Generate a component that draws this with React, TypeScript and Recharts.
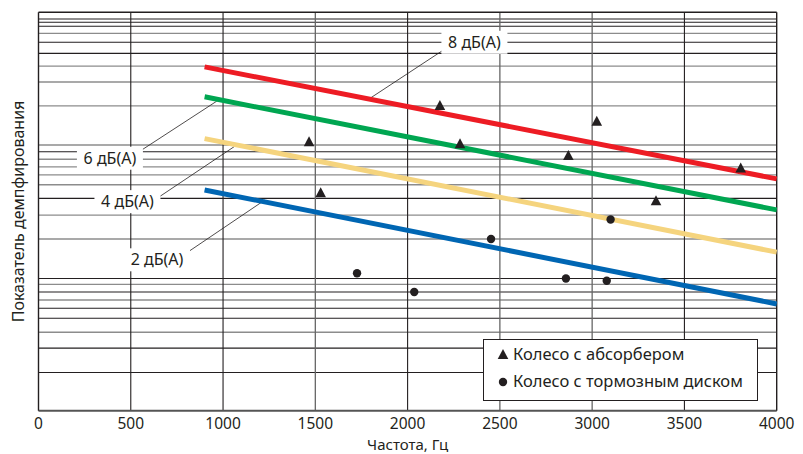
import {
  Legend,
  Line,
  LineChart,
  ReferenceDot,
  ReferenceLine,
  Scatter,
  XAxis,
  YAxis,
} from "recharts";

const FONT = "'Noto Sans', sans-serif";
const INK = "#231f20";
const GRAY = "#8c8c8c";

const xTicks = [0, 500, 1000, 1500, 2000, 2500, 3000, 3500, 4000];
const xDarkLines = [500, 1000, 2000, 3500];
const xGrayLines = [1500, 2500, 3000];

// horizontal rulings of the damping scale (no labels on the original)
const yDarkLines = [98.3, 97.5, 96.5, 92.5, 89.7, 65.0, 53.3, 33.2, 29.8, 25.7, 23.2, 15.7, 9.6];
const yGrayLines = [94.7, 86.5, 82.5, 76.5, 66.7, 63.1, 61.2, 59.2, 56.7, 49.1, 43.1, 31.7, 27.8, 19.7];

const line8 = [{ x: 900, y: 86.3 }, { x: 4000, y: 58.2 }];
const line6 = [{ x: 900, y: 78.8 }, { x: 4000, y: 50.4 }];
const line4 = [{ x: 900, y: 68.3 }, { x: 4000, y: 39.8 }];
const line2 = [{ x: 900, y: 55.4 }, { x: 4000, y: 26.8 }];

const absorber = [
  { x: 1466, y: 67.4 },
  { x: 1529, y: 54.6 },
  { x: 2175, y: 76.5 },
  { x: 2284, y: 66.9 },
  { x: 2871, y: 63.9 },
  { x: 3025, y: 72.5 },
  { x: 3346, y: 52.6 },
  { x: 3805, y: 60.8 },
];

const brakeDisc = [
  { x: 1726, y: 34.5 },
  { x: 2036, y: 29.8 },
  { x: 2452, y: 43.1 },
  { x: 2858, y: 33.2 },
  { x: 3079, y: 32.6 },
  { x: 3100, y: 48.0 },
];

const lineLabels = [
  { text: "8 дБ(А)", x: 2362, y: 92.6, from: { x: 2193, y: 90.5 }, to: { x: 1796, y: 78.4 } },
  { text: "6 дБ(А)", x: 387, y: 63.5, from: { x: 535, y: 64.7 }, to: { x: 966, y: 77.7 } },
  { text: "4 дБ(А)", x: 482, y: 52.6, from: { x: 655, y: 53.7 }, to: { x: 1074, y: 66.7 } },
  { text: "2 дБ(А)", x: 642, y: 38.0, from: { x: 799, y: 39.5 }, to: { x: 1227, y: 52.9 } },
];

const Triangle = ({ cx, cy }: any) => (
  <polygon
    points={`${cx},${cy - 6} ${cx - 5.3},${cy + 4} ${cx + 5.3},${cy + 4}`}
    fill={INK}
  />
);

const Dot = ({ cx, cy }: any) => <circle cx={cx} cy={cy} r={4.2} fill={INK} />;

const makeTag = (text: string) => ({ cx, cy }: any) => (
  <g>
    <rect x={cx - 33} y={cy - 11} width={66} height={23} fill="#fff" />
    <text
      x={cx}
      y={cy}
      textAnchor="middle"
      dominantBaseline="central"
      fontFamily={FONT}
      fontSize={16}
      fill={INK}
    >
      {text}
    </text>
  </g>
);

const LegendBox = () => (
  <div
    style={{
      width: 275,
      height: 62,
      boxSizing: "border-box",
      border: `1.5px solid ${INK}`,
      background: "#fff",
      fontFamily: FONT,
      fontSize: 16.5,
      color: INK,
      position: "relative",
    }}
  >
    <svg width={20} height={60} style={{ position: "absolute", left: 10, top: 0 }}>
      <polygon points="9,9 3.7,19 14.3,19" fill={INK} />
      <circle cx={9} cy={42} r={4.2} fill={INK} />
    </svg>
    <div style={{ position: "absolute", left: 29, top: 3, lineHeight: "22px" }}>
      Колесо с абсорбером
    </div>
    <div style={{ position: "absolute", left: 29, top: 30, lineHeight: "22px" }}>
      Колесо с тормозным диском
    </div>
  </div>
);

export default function App() {
  return (
    <div style={{ position: "absolute", left: 0, top: 0, background: "#fff" }}>
      <LineChart
        width={803}
        height={454}
        margin={{ top: 12.3, right: 26.3, left: 0, bottom: 0 }}
      >
        <XAxis
          type="number"
          dataKey="x"
          domain={[0, 4000]}
          ticks={xTicks}
          tickLine={false}
          tickSize={5}
          axisLine={false}
          height={43.3}
          tick={{ fontFamily: FONT, fontSize: 15.5, fill: INK }}
          label={{
            value: "Частота, Гц",
            position: "insideBottom",
            offset: 4.5,
            fontFamily: FONT,
            fontSize: 15,
            fill: INK,
          }}
        />
        <YAxis
          type="number"
          dataKey="y"
          domain={[0, 100]}
          width={38.5}
          tick={false}
          tickLine={false}
          axisLine={false}
          label={{
            value: "Показатель демпфирования",
            angle: -90,
            position: "center",
            dx: -1,
            fontFamily: FONT,
            fontSize: 16,
            fill: INK,
          }}
        />

        {yGrayLines.map((v) => (
          <ReferenceLine key={`yg${v}`} y={v} stroke={GRAY} strokeWidth={1.4} />
        ))}
        {yDarkLines.map((v) => (
          <ReferenceLine key={`yd${v}`} y={v} stroke={INK} strokeWidth={1.1} />
        ))}
        {xGrayLines.map((v) => (
          <ReferenceLine key={`xg${v}`} x={v} stroke="#666" strokeWidth={1.3} />
        ))}
        {xDarkLines.map((v) => (
          <ReferenceLine key={`xd${v}`} x={v} stroke={INK} strokeWidth={1.1} />
        ))}
        <ReferenceLine y={100} stroke={INK} strokeWidth={1.4} />
        <ReferenceLine y={0} stroke="#555" strokeWidth={2} />
        <ReferenceLine x={0} stroke={INK} strokeWidth={1.4} />
        <ReferenceLine x={4000} stroke={INK} strokeWidth={1.4} />

        {lineLabels.map((l) => (
          <ReferenceLine
            key={`seg${l.text}`}
            segment={[l.from, l.to]}
            stroke={INK}
            strokeWidth={0.8}
          />
        ))}
        {lineLabels.map((l) => (
          <ReferenceDot
            key={`tag${l.text}`}
            x={l.x}
            y={l.y}
            r={0}
            shape={makeTag(l.text)}
          />
        ))}

        <Line data={line8} dataKey="y" stroke="#ed1c24" strokeWidth={5} dot={false} isAnimationActive={false} />
        <Line data={line6} dataKey="y" stroke="#00a651" strokeWidth={5} dot={false} isAnimationActive={false} />
        <Line data={line4} dataKey="y" stroke="#f5d47e" strokeWidth={5} dot={false} isAnimationActive={false} />
        <Line data={line2} dataKey="y" stroke="#0066b3" strokeWidth={5} dot={false} isAnimationActive={false} />

        <Scatter data={absorber} dataKey="y" shape={Triangle} isAnimationActive={false} />
        <Scatter data={brakeDisc} dataKey="y" shape={Dot} isAnimationActive={false} />

        <Legend
          layout="horizontal"
          verticalAlign="middle"
          align="center"
          content={() => <LegendBox />}
          wrapperStyle={{ position: "absolute", left: 483, top: 339, width: 275, height: 62 }}
        />
      </LineChart>
    </div>
  );
}
